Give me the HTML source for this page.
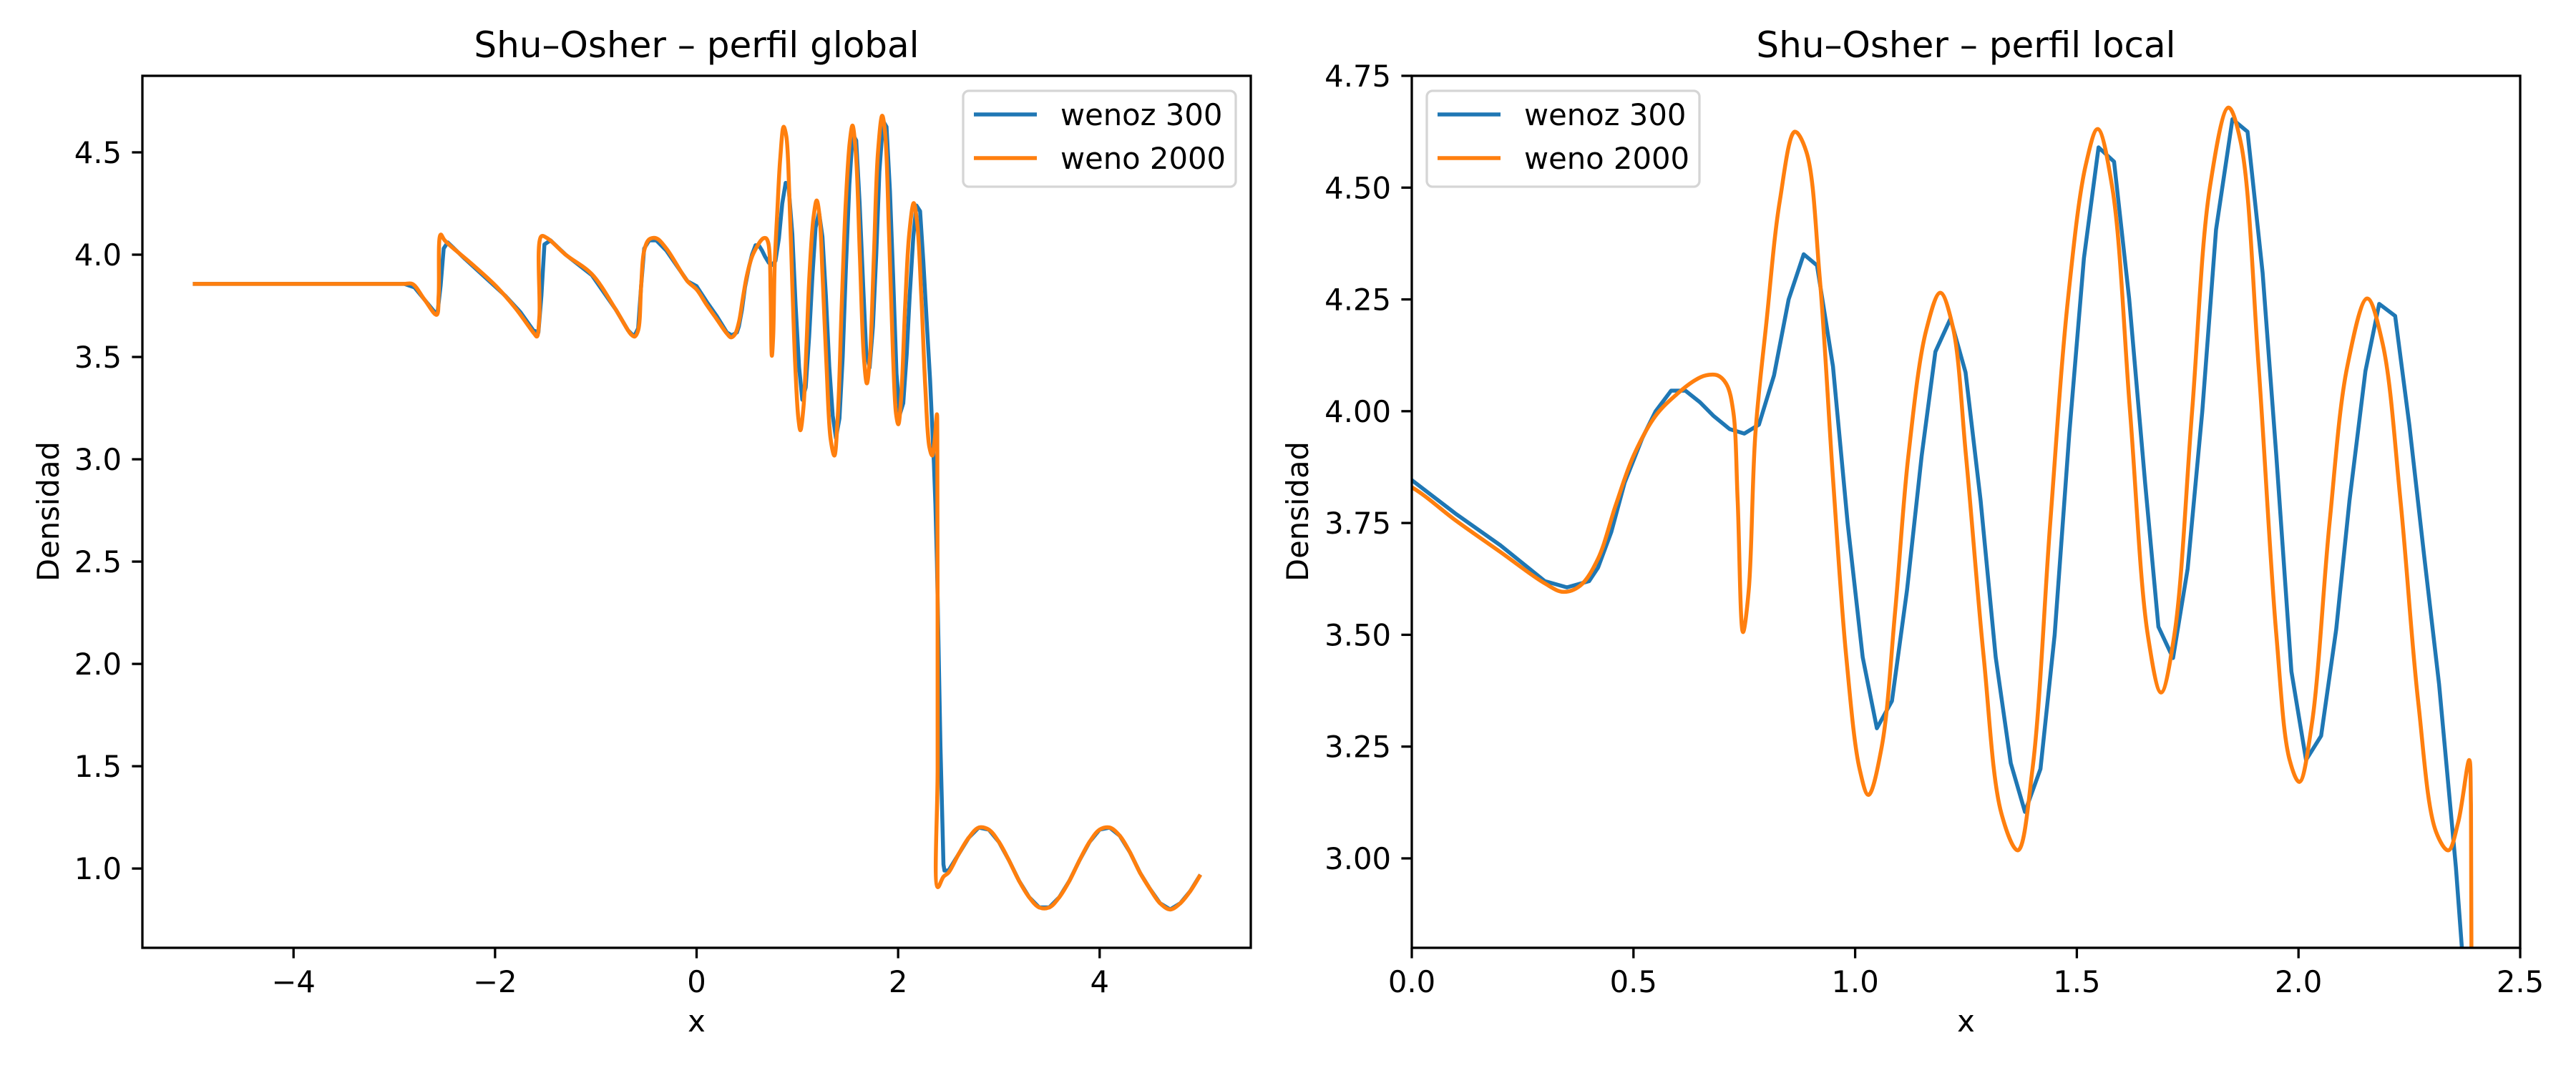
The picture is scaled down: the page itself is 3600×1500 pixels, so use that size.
<!DOCTYPE html>
<html><head><meta charset="utf-8"><style>
html,body{margin:0;padding:0;background:#fff;width:3600px;height:1500px;overflow:hidden;}
svg{display:block;font-family:"DejaVu Sans","Liberation Sans",sans-serif;}
</style></head><body>
<svg id="fig" width="3600" height="1500" viewBox="0 0 3600 1500" xmlns="http://www.w3.org/2000/svg">
<rect width="3600" height="1500" fill="#fff"/>
<defs>
<clipPath id="clipL"><rect x="199" y="106" width="1549" height="1219"/></clipPath>
<clipPath id="clipR"><rect x="1973" y="106" width="1549" height="1219"/></clipPath>
</defs>
<g id="left"></g>
<g id="right"></g>
</svg>
<script>
// ---- data ----
const blueX = [-5,-2.9,-2.8,-2.7,-2.6,-2.57,-2.54,-2.51,-2.47,-2.3,-2.1,-1.9,-1.75,-1.62,-1.57,-1.54,-1.51,-1.45,-1.3,-1.04,-0.8,-0.68,-0.62,-0.58,-0.55,-0.52,-0.47,-0.4,-0.3,-0.09,
0,0.1,0.2,0.3,0.35,0.4,0.42,0.45,0.48,0.52,0.55,0.585,0.617,0.65,0.68,0.717,0.75,0.783,0.817,0.85,0.884,0.914,0.95,0.983,1.017,1.049,1.083,1.117,1.15,1.181,1.215,1.249,1.283,1.317,1.351,1.383,1.418,1.45,1.483,1.516,1.549,1.584,1.618,1.654,1.684,1.717,1.75,1.783,1.814,1.851,1.885,1.919,1.95,1.984,2.017,2.051,2.085,2.115,2.151,2.182,2.218,2.25,2.283,2.317,2.355,2.37,2.385,2.42,2.45,2.46,
2.5,2.6,2.7,2.8,2.9,3.0,3.1,3.2,3.3,3.4,3.5,3.6,3.7,3.8,3.9,4.0,4.1,4.2,4.3,4.4,4.5,4.6,4.7,4.8,4.9,5.0];
const blueY = [3.857,3.857,3.84,3.78,3.72,3.72,3.85,4.03,4.06,3.98,3.89,3.80,3.72,3.63,3.62,3.8,4.05,4.07,4.0,3.90,3.73,3.63,3.60,3.64,3.85,4.03,4.07,4.07,4.02,3.87,
3.846,3.77,3.70,3.62,3.606,3.62,3.65,3.73,3.84,3.94,4.0,4.046,4.046,4.02,3.99,3.96,3.95,3.97,4.08,4.25,4.351,4.326,4.1,3.75,3.45,3.291,3.352,3.6,3.9,4.133,4.207,4.087,3.8,3.45,3.213,3.104,3.2,3.5,3.95,4.342,4.59,4.558,4.252,3.84,3.518,3.448,3.648,4.0,4.406,4.653,4.625,4.31,3.9,3.418,3.22,3.274,3.512,3.8,4.09,4.24,4.213,3.969,3.68,3.39,2.98,2.78,2.5,1.6,1.02,0.99,
0.99,1.07,1.15,1.2,1.19,1.13,1.04,0.94,0.86,0.81,0.81,0.86,0.94,1.04,1.13,1.19,1.2,1.16,1.08,0.98,0.9,0.83,0.8,0.83,0.89,0.97];
const orangeX = [-5,-4.5,-4,-3.5,-3.2,-3.0,-2.9,-2.82,-2.7,-2.58,-2.56,-2.54,-2.5,-2.22,-1.99,-1.8,-1.61,-1.585,-1.56,-1.54,-1.48,-1.3,-1.04,-0.8,-0.65,-0.614,-0.58,-0.55,-0.52,-0.47,-0.4,-0.3,-0.09,
0,0.1,0.2,0.3,0.342,0.38,0.42,0.46,0.5,0.55,0.6,0.64,0.663,0.69,0.71,0.725,0.735,0.747,0.76,0.775,0.8,0.83,0.864,0.89,0.92,0.95,0.98,1.01,1.03,1.06,1.09,1.12,1.16,1.192,1.22,1.25,1.29,1.33,1.367,1.4,1.44,1.48,1.52,1.547,1.58,1.62,1.66,1.69,1.72,1.76,1.8,1.842,1.87,1.91,1.95,1.98,2.002,2.03,2.07,2.11,2.155,2.19,2.23,2.27,2.31,2.338,2.36,2.385,2.389,2.392,2.394,2.45,
2.5,2.6,2.7,2.8,2.9,3.0,3.1,3.2,3.3,3.4,3.5,3.6,3.7,3.8,3.9,4.0,4.1,4.2,4.3,4.4,4.5,4.6,4.7,4.8,4.9,5.0];
const orangeY = [3.857,3.857,3.857,3.857,3.857,3.857,3.857,3.857,3.78,3.706,3.8,4.098,4.07,3.95,3.846,3.74,3.613,3.60,3.7,4.09,4.08,4.0,3.905,3.73,3.61,3.60,3.63,3.85,4.02,4.075,4.08,4.03,3.87,
3.83,3.755,3.685,3.615,3.596,3.61,3.67,3.79,3.90,3.99,4.04,4.07,4.08,4.08,4.06,4.0,3.8,3.506,3.6,3.95,4.2,4.47,4.625,4.58,4.3,3.85,3.45,3.2,3.142,3.25,3.55,3.9,4.18,4.265,4.19,3.9,3.45,3.1,3.018,3.2,3.75,4.25,4.55,4.631,4.5,4.0,3.5,3.371,3.5,4.0,4.5,4.679,4.6,4.1,3.5,3.22,3.171,3.3,3.75,4.1,4.252,4.15,3.8,3.35,3.06,3.018,3.08,3.22,3.12,1.5,0.909,0.96,
0.98,1.07,1.15,1.2,1.19,1.13,1.04,0.94,0.86,0.81,0.81,0.86,0.94,1.04,1.13,1.19,1.2,1.16,1.08,0.98,0.9,0.83,0.8,0.83,0.89,0.97];
const leftXTicks = [-4,-2,0,2,4];
const leftXTickLabels = ["−4","−2","0","2","4"];
const leftYTicks = [1.0,1.5,2.0,2.5,3.0,3.5,4.0,4.5];
const leftYTickLabels = ["1.0","1.5","2.0","2.5","3.0","3.5","4.0","4.5"];
const rightXTicks = [0,0.5,1.0,1.5,2.0,2.5];
const rightXTickLabels = ["0.0","0.5","1.0","1.5","2.0","2.5"];
const rightYTicks = [3.0,3.25,3.5,3.75,4.0,4.25,4.5,4.75];
const rightYTickLabels = ["3.00","3.25","3.50","3.75","4.00","4.25","4.50","4.75"];

const NS = "http://www.w3.org/2000/svg";
function mk(tag, attrs, parent){const e=document.createElementNS(NS,tag);for(const k in attrs)e.setAttribute(k,attrs[k]);parent.appendChild(e);return e;}

function smoothPath(P){
  let d="M"+P[0][0].toFixed(2)+","+P[0][1].toFixed(2);
  const dist=(a,b)=>Math.max(1e-4,Math.sqrt(Math.hypot(a[0]-b[0],a[1]-b[1])));
  for(let i=0;i<P.length-1;i++){
    const p0=P[Math.max(0,i-1)],p1=P[i],p2=P[i+1],p3=P[Math.min(P.length-1,i+2)];
    const d1=dist(p0,p1),d2=dist(p1,p2),d3=dist(p2,p3);
    const b1=[0,0],b2=[0,0];
    for(let k=0;k<2;k++){
      b1[k]= (i===0)? p1[k] : (d1*d1*p2[k]-d2*d2*p0[k]+(2*d1*d1+3*d1*d2+d2*d2)*p1[k])/(3*d1*(d1+d2));
      b2[k]= (i+2>P.length-1)? p2[k] : (d3*d3*p1[k]-d2*d2*p3[k]+(2*d3*d3+3*d3*d2+d2*d2)*p2[k])/(3*d3*(d3+d2));
    }
    d+="C"+b1[0].toFixed(2)+","+b1[1].toFixed(2)+" "+b2[0].toFixed(2)+","+b2[1].toFixed(2)+" "+p2[0].toFixed(2)+","+p2[1].toFixed(2);
  }
  return d;
}

function panel(g, ax, opts){
  const sx = v => ax.x0 + (v-opts.xmin)/(opts.xmax-opts.xmin)*ax.w;
  const sy = v => ax.y0 + ax.h - (v-opts.ymin)/(opts.ymax-opts.ymin)*ax.h;
  const series=[[blueX,blueY,"#1f77b4","wenoz-300-line",false],[orangeX,orangeY,"#ff7f0e","weno-2000-line",true]];
  for(const s of series){
    const pts=s[0].map((x,i)=>[sx(x),sy(s[1][i])]);
    let d;
    if(s[4]) d=smoothPath(pts);
    else d=pts.map((p,i)=>(i?"L":"M")+p[0].toFixed(2)+","+p[1].toFixed(2)).join("");
    const p=mk("path",{d:d,fill:"none",stroke:s[2],"stroke-width":"5.5","stroke-linejoin":"round","clip-path":"url(#"+opts.clip+")"},g);
    
    
  }
  const fr=mk("rect",{x:ax.x0,y:ax.y0,width:ax.w,height:ax.h,fill:"none",stroke:"#000","stroke-width":"3.3"},g);
  
  
  opts.xt.forEach((v,i)=>{
    const x=sx(v);
    const t=mk("line",{x1:x,x2:x,y1:ax.y0+ax.h,y2:ax.y0+ax.h+14.6,stroke:"#000","stroke-width":"3.3"},g);
    
    
    const l=mk("text",{x:x,y:ax.y0+ax.h+62,"text-anchor":"middle","font-size":"41.7",fill:"#000"},g);
    l.textContent=opts.xl[i];
    
    
  });
  opts.yt.forEach((v,i)=>{
    const y=sy(v);
    const t=mk("line",{x1:ax.x0-14.6,x2:ax.x0,y1:y,y2:y,stroke:"#000","stroke-width":"3.3"},g);
    
    
    const l=mk("text",{x:ax.x0-29,y:y+15,"text-anchor":"end","font-size":"41.7",fill:"#000"},g);
    l.textContent=opts.yl[i];
    
    
  });
  const ti=mk("text",{x:ax.x0+ax.w/2,y:80,"text-anchor":"middle","font-size":"50",fill:"#000"},g);
  ti.textContent=opts.title;
  
  
  const xl=mk("text",{x:ax.x0+ax.w/2,y:1442,"text-anchor":"middle","font-size":"41.7",fill:"#000"},g);
  xl.textContent="x";
  
  
  const yl=mk("text",{x:0,y:0,"text-anchor":"middle","font-size":"41.7",fill:"#000",transform:"translate("+opts.ylx+",715) rotate(-90)"},g);
  yl.textContent="Densidad";
  
  
  const lg=mk("g",{},g);
  
  
  const lx=opts.lgx, ly=127;
  mk("rect",{x:lx,y:ly,width:381,height:134,rx:8,fill:"#fff","fill-opacity":"0.8",stroke:"#d5d5d5","stroke-width":"3.3"},lg);
  [["#1f77b4","wenoz 300",33],["#ff7f0e","weno 2000",94]].forEach(e=>{
    const le=mk("g",{},lg);
    
    
    mk("line",{x1:lx+15,x2:lx+103,y1:ly+e[2],y2:ly+e[2],stroke:e[0],"stroke-width":"5.5"},le);
    const t=mk("text",{x:lx+136,y:ly+e[2]+15,"font-size":"41.7",fill:"#000"},le);
    t.textContent=e[1];
  });
}
panel(document.getElementById("left"),{x0:199,y0:106,w:1549,h:1219},
  {xmin:-5.5,xmax:5.5,ymin:0.6125,ymax:4.874,clip:"clipL",xt:leftXTicks,xl:leftXTickLabels,yt:leftYTicks,yl:leftYTickLabels,
   title:"Shu–Osher – perfil global",ylx:82,lgx:1346});
panel(document.getElementById("right"),{x0:1973,y0:106,w:1549,h:1219},
  {xmin:0,xmax:2.5,ymin:2.8,ymax:4.75,clip:"clipR",xt:rightXTicks,xl:rightXTickLabels,yt:rightYTicks,yl:rightYTickLabels,
   title:"Shu–Osher – perfil local",ylx:1828,lgx:1994});
</script>
</body></html>
